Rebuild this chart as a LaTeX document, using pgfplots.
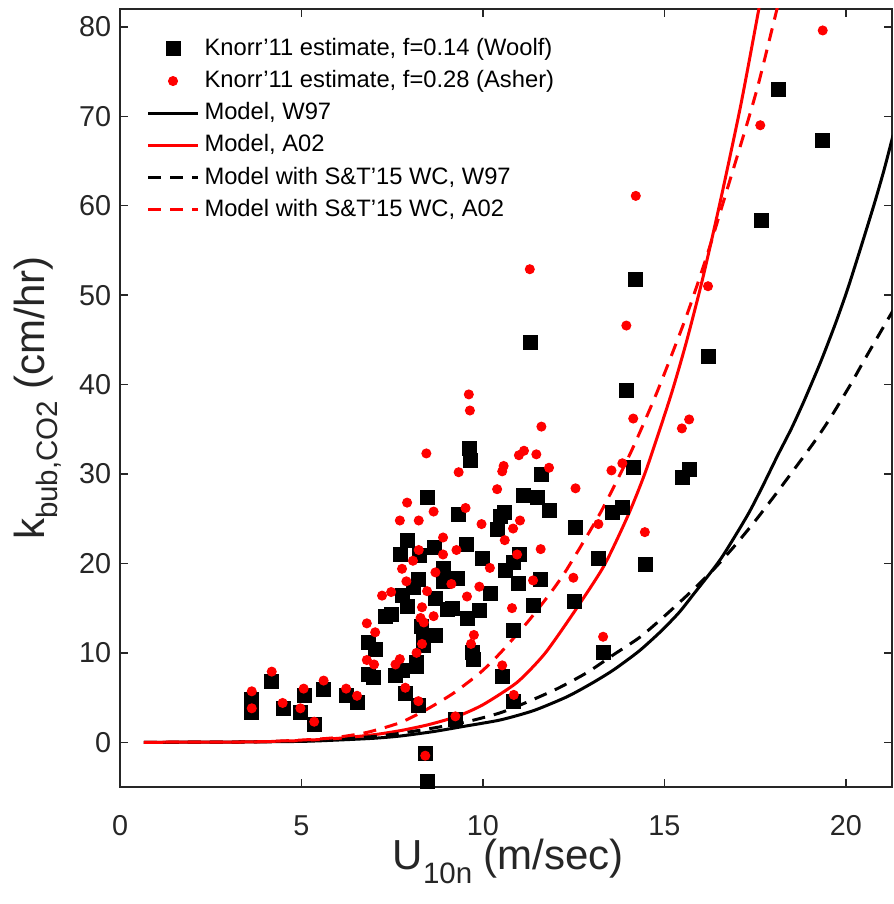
\documentclass[border=0pt]{standalone}
\usepackage{fontspec}
\setmainfont{Liberation Sans}
\usepackage{pgfplots}
\pgfplotsset{compat=1.18}
\definecolor{axgray}{HTML}{262626}
\newlength\pxu
\setlength\pxu{0.4pt}
\newcommand\msub[1]{\raisebox{-5.5pt}{\fontsize{11.8}{12}\selectfont #1}}

% Knorr'11 estimate, f=0.14 (Woolf)
\pgfplotstableread{
x y
3.63 4.8
3.63 3.3
4.18 6.8
4.50 3.8
5.07 5.2
4.96 3.3
5.35 2.0
5.61 5.9
6.23 5.2
6.53 4.4
6.85 11.2
7.03 10.4
6.85 7.6
6.99 7.3
7.31 14.1
7.49 14.3
7.59 7.5
7.77 8.0
7.86 5.4
8.23 4.1
8.41 -1.2
8.46 -4.4
11.31 44.7
9.64 32.8
9.66 31.5
11.61 29.9
8.46 27.4
9.33 25.5
10.58 25.7
10.48 25.3
11.13 27.6
11.49 27.4
11.82 25.9
10.39 23.8
7.91 22.6
7.72 21.0
8.26 20.9
8.66 21.8
9.54 22.1
9.98 20.6
8.92 19.4
8.90 18.0
9.29 18.3
11.02 21.0
10.85 20.1
10.62 19.2
10.97 17.7
11.59 18.2
8.23 18.2
8.09 17.3
7.77 16.4
7.91 15.2
8.69 16.1
10.21 16.6
9.15 15.0
9.56 13.8
9.91 14.7
11.40 15.3
10.83 12.5
8.32 13.0
8.37 11.9
8.69 11.9
13.96 39.3
14.16 30.7
15.68 30.5
15.49 29.6
13.56 25.7
13.84 26.2
12.55 24.0
13.18 20.6
14.47 19.9
12.51 15.7
13.33 10.0
10.55 7.4
10.85 4.6
9.24 2.6
9.70 10.0
9.75 9.3
18.14 73.0
19.36 67.3
17.66 58.4
14.21 51.7
16.20 43.1
8.18 8.9
8.37 10.8
9.01 14.9
8.18 8.5
}\woolf

% Knorr'11 estimate, f=0.28 (Asher)
\pgfplotstableread{
x y
3.63 5.7
3.63 3.8
4.18 7.9
4.48 4.4
5.06 6.0
4.97 3.8
5.35 2.3
5.61 6.9
6.23 6.0
6.53 5.2
6.80 13.3
7.03 12.3
6.80 9.2
7.00 8.7
7.22 16.4
7.47 16.8
7.71 9.3
7.59 8.7
7.86 6.1
8.22 4.6
8.41 -1.5
19.36 79.6
17.64 69.0
14.21 61.1
11.29 52.9
16.20 51.0
13.95 46.6
9.61 38.9
9.64 37.1
11.61 35.3
8.44 32.3
9.33 30.2
10.53 30.3
10.57 30.9
10.99 32.1
11.13 32.6
11.47 32.2
11.82 30.7
14.14 36.2
13.84 31.2
13.54 30.4
15.68 36.1
15.48 35.1
12.55 28.4
13.18 24.4
14.46 23.5
12.49 18.4
13.31 11.8
10.53 8.6
10.85 5.3
9.24 2.9
7.91 26.8
8.64 25.8
8.23 24.8
7.71 24.8
9.52 26.2
9.96 24.4
10.39 28.3
10.83 23.9
11.02 24.8
10.60 22.6
11.59 21.6
10.94 21.0
11.38 18.1
10.19 19.5
9.90 17.4
9.56 16.3
10.80 15.0
9.27 21.5
8.90 22.9
8.90 21.0
8.69 19.0
9.13 17.7
8.23 21.5
8.07 20.3
7.77 19.4
7.89 18.0
8.46 16.9
8.32 15.1
8.64 14.1
8.28 13.9
8.37 13.4
8.32 11.0
9.75 12.0
9.67 11.0
8.17 10.0
}\asher

\begin{document}
\begin{tikzpicture}
\begin{axis}[
  name=ax,
  scale only axis, width=772\pxu, height=778\pxu,
  xmin=0, xmax=21.27, ymin=-5, ymax=82,
  xtick={0,5,10,15,20}, ytick={0,10,...,80},
  axis line style={axgray, line width=0.8pt},
  tick style={axgray, line width=0.6pt},
  major tick length=8\pxu,
  ticklabel style={font=\fontsize{11.5}{13}\selectfont, text=axgray},
  /pgf/number format/assume math mode=true,
  xticklabel style={yshift=-8pt},
  xlabel={U\msub{10n} (m/sec)},
  ylabel={k\msub{bub,CO2} (cm/hr)},
  label style={font=\fontsize{16.8}{18}\selectfont, text=axgray},
  xlabel style={at={(axis description cs:0.503,-0.066)}, anchor=north, inner sep=0pt},
  ylabel style={at={(axis description cs:-0.075,0.5)}, anchor=south, inner sep=0pt},
  legend style={draw=none, fill=none, inner sep=0pt,
    at={(axis description cs:0,1)}, anchor=north west,
    xshift=26\pxu, yshift=-24\pxu,
    font=\fontsize{9.5}{11}\selectfont, row sep=0.45pt},
  legend cell align=left,
  legend image code/.code={\draw[mark repeat=2,mark phase=2,#1]
    plot coordinates {(0pt,0pt) (10pt,0pt) (20pt,0pt)};},
]
\addplot[only marks, mark=square*, mark size=7\pxu, black] table {\woolf};
\addlegendentry{Knorr'11 estimate, f=0.14 (Woolf)}
\addplot[only marks, mark=*, mark size=4.5\pxu, red, mark options={draw=none, fill=red}] table {\asher};
\addlegendentry{Knorr'11 estimate, f=0.28 (Asher)}
\addplot[black, line width=3\pxu, smooth, tension=0.4] coordinates {(0.66,0) (3,0.02) (5,0.1) (6,0.25) (7,0.45) (7.72,0.7) (8.64,1.2) (9.5,1.8) (10.48,2.5) (11.4,3.55) (12.32,5.1) (13,6.6) (13.6,8.1) (14.3,10.2) (14.9,12.4) (15.4,14.5) (15.81,16.6) (16.55,20.5) (17.29,25.4) (17.7,28.6) (18.11,32.0) (18.5,35.1) (18.85,38.2) (19.31,42.6) (19.7,46.7) (20.04,50.6) (20.4,55.2) (20.78,60.2) (21.05,64.0) (21.3,67.9)};
\addlegendentry{Model, W97}
\addplot[red, line width=3\pxu, smooth, tension=0.4] coordinates {(0.66,0) (2,0.01) (3,0.02) (4,0.07) (5,0.2) (6,0.44) (7,0.85) (7.72,1.3) (8.5,1.97) (9.29,2.9) (10,4.2) (10.94,6.7) (11.7,9.9) (12.5,14.5) (13.33,19.7) (14,25.4) (14.5,30.5) (15.17,38.7) (15.6,44.7) (16.05,51.8) (16.55,60.7) (17.1,71.2) (17.6,82) (17.8,86.7)};
\addlegendentry{Model, A02}
\addplot[black, line width=3\pxu, dash pattern=on 13\pxu off 9\pxu, smooth, tension=0.4] coordinates {(0.66,0) (3,0.02) (5,0.15) (6,0.35) (7,0.65) (7.72,1.0) (8.64,1.6) (9.56,2.3) (10.48,3.3) (11.22,4.5) (12.05,6.0) (12.87,7.8) (13.6,9.8) (14.34,11.8) (15.08,14.4) (15.8,17.1) (16.37,19.4) (16.92,21.9) (17.47,24.6) (18.02,27.5) (18.57,30.5) (19.13,33.6) (19.59,36.4) (20.14,40.1) (20.5,42.7) (20.97,46.0) (21.3,48.3)};
\addlegendentry{Model with S\&T'15 WC, W97}
\addplot[red, line width=3\pxu, dash pattern=on 13\pxu off 9\pxu, smooth, tension=0.4] coordinates {(0.66,0) (3,0.02) (4,0.08) (5,0.25) (5.88,0.5) (6.8,1.1) (7.72,2.2) (8.46,3.7) (9.19,5.5) (9.93,7.8) (10.48,10) (11.22,13.4) (11.86,16.7) (12.32,19.4) (13.24,25.7) (14.07,32.4) (14.8,39.2) (15.6,47.6) (16.2,54.8) (16.8,62.8) (17.3,69.5) (17.6,73.8) (18.1,82) (18.3,85.5)};
\addlegendentry{Model with S\&T'15 WC, A02}
\end{axis}
\pgfresetboundingbox
\path (ax.south west) ++(-120\pxu,-117\pxu) coordinate (bbl);
\path (ax.north east) ++(1\pxu,9\pxu) coordinate (btr);
\useasboundingbox (bbl) rectangle (btr);
\end{tikzpicture}
\end{document}
